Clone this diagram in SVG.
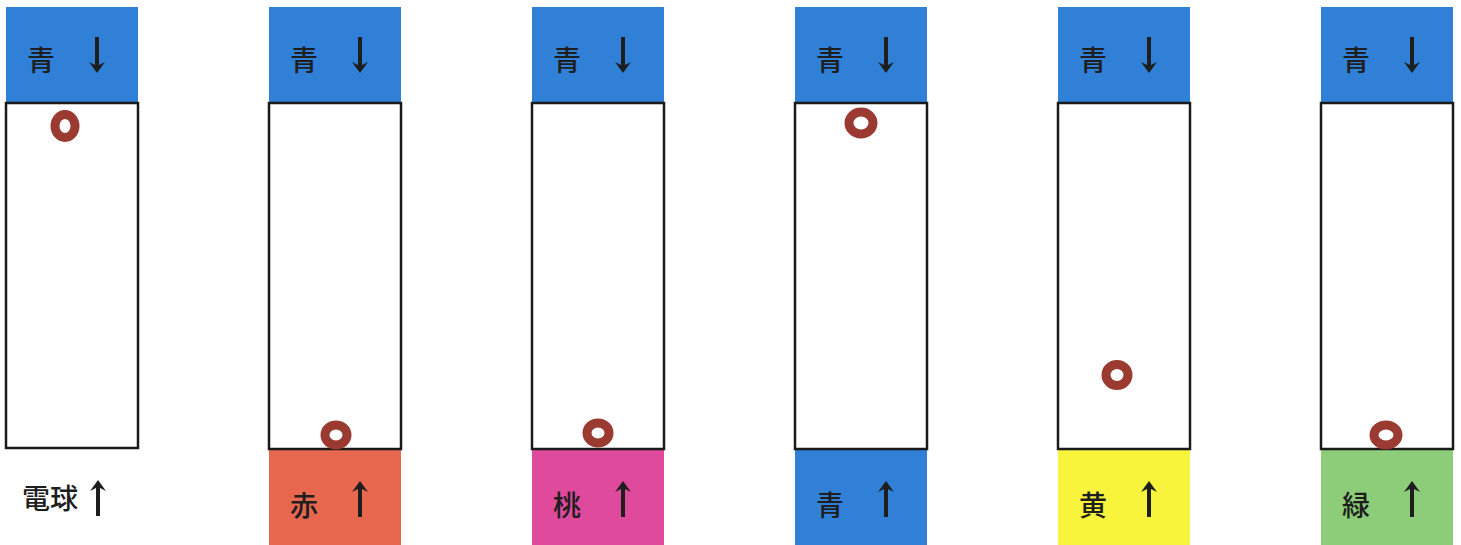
<svg xmlns="http://www.w3.org/2000/svg" width="1461" height="545" viewBox="0 0 1461 545">
<defs>
<style>
.lbl{font-family:"Noto Sans CJK JP","Noto Sans CJK SC",sans-serif;font-size:28px;font-weight:500;fill:#1e1e1e;}
.tube{fill:#ffffff;stroke:#1a1a1a;stroke-width:2.5;}
.ball{fill:none;stroke:#9b3a31;stroke-width:9;}
.arr{stroke:#1e1e1e;stroke-width:4;fill:none;}
.head{fill:#1e1e1e;}
.blue{fill:#2f80d6;}
</style>
<g id="arrowDown">
<line class="arr" x1="0" y1="-18" x2="0" y2="12"/>
<path class="head" d="M-8,7 L0,18 L8,7 L0,11 Z"/>
</g>
<g id="arrowUp">
<line class="arr" x1="0" y1="18" x2="0" y2="-12"/>
<path class="head" d="M-8,-7 L0,-18 L8,-7 L0,-11 Z"/>
</g>
</defs>
<rect width="1461" height="545" fill="#ffffff"/>

<g id="col1">
<rect class="blue" x="6" y="7" width="132" height="96"/>
<text class="lbl" x="41" y="71" text-anchor="middle">青</text>
<use href="#arrowDown" x="97" y="55"/>
<rect class="tube" x="6" y="103" width="132" height="345"/>
<ellipse class="ball" cx="65" cy="126" rx="10" ry="11.5"/>
<text class="lbl" x="50" y="509" text-anchor="middle" font-size="26">電球</text>
<use href="#arrowUp" x="98" y="498"/>
</g>

<g id="col2">
<rect class="blue" x="269" y="7" width="132" height="96"/>
<text class="lbl" x="304" y="71" text-anchor="middle">青</text>
<use href="#arrowDown" x="360" y="55"/>
<rect fill="#e8674f" x="269" y="449" width="132" height="96"/>
<text class="lbl" x="304" y="516" text-anchor="middle">赤</text>
<use href="#arrowUp" x="360" y="499"/>
<rect class="tube" x="269" y="103" width="132" height="346"/>
<ellipse class="ball" cx="336" cy="435" rx="11" ry="10"/>
</g>

<g id="col3">
<rect class="blue" x="532" y="7" width="132" height="96"/>
<text class="lbl" x="567" y="71" text-anchor="middle">青</text>
<use href="#arrowDown" x="623" y="55"/>
<rect fill="#e04a9c" x="532" y="449" width="132" height="96"/>
<text class="lbl" x="567" y="516" text-anchor="middle">桃</text>
<use href="#arrowUp" x="623" y="499"/>
<rect class="tube" x="532" y="103" width="132" height="346"/>
<ellipse class="ball" cx="598" cy="433" rx="11" ry="10"/>
</g>

<g id="col4">
<rect class="blue" x="795" y="7" width="132" height="96"/>
<text class="lbl" x="830" y="71" text-anchor="middle">青</text>
<use href="#arrowDown" x="886" y="55"/>
<rect class="blue" x="795" y="449" width="132" height="96"/>
<text class="lbl" x="830" y="516" text-anchor="middle">青</text>
<use href="#arrowUp" x="886" y="499"/>
<rect class="tube" x="795" y="103" width="132" height="346"/>
<ellipse class="ball" cx="861" cy="123" rx="12" ry="11"/>
</g>

<g id="col5">
<rect class="blue" x="1058" y="7" width="132" height="96"/>
<text class="lbl" x="1093" y="71" text-anchor="middle">青</text>
<use href="#arrowDown" x="1149" y="55"/>
<rect fill="#f8f43c" x="1058" y="449" width="132" height="96"/>
<text class="lbl" x="1093" y="516" text-anchor="middle">黄</text>
<use href="#arrowUp" x="1149" y="499"/>
<rect class="tube" x="1058" y="103" width="132" height="346"/>
<ellipse class="ball" cx="1117" cy="375" rx="11" ry="10.5"/>
</g>

<g id="col6">
<rect class="blue" x="1321" y="7" width="132" height="96"/>
<text class="lbl" x="1356" y="71" text-anchor="middle">青</text>
<use href="#arrowDown" x="1412" y="55"/>
<rect fill="#8dcc78" x="1321" y="449" width="132" height="96"/>
<text class="lbl" x="1356" y="516" text-anchor="middle">緑</text>
<use href="#arrowUp" x="1412" y="499"/>
<rect class="tube" x="1321" y="103" width="132" height="346"/>
<ellipse class="ball" cx="1386" cy="435" rx="12" ry="10"/>
</g>
</svg>
